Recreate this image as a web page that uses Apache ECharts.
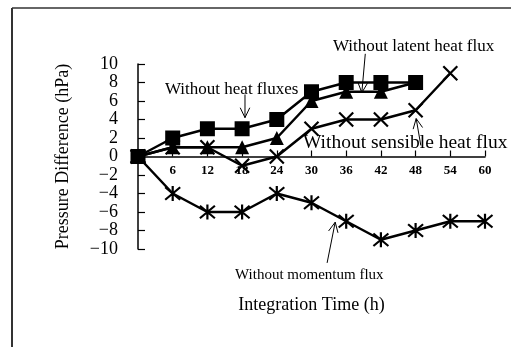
<!DOCTYPE html>
<html><head><meta charset="utf-8">
<script src="https://cdn.jsdelivr.net/npm/echarts@6/dist/echarts.min.js"></script>
<style>html,body{margin:0;padding:0;background:#fff}#c{width:511px;height:347px}</style>
</head><body><div id="c"></div>
<script>
var hours = [0, 6, 12, 18, 24, 30, 36, 42, 48, 54, 60];
var xTickLabels = ['', '6', '12', '18', '24', '30', '36', '42', '48', '54', '60'];
var yTickLabels = ['\u221210', '\u22128', '\u22126', '\u22124', '\u22122', '0', '2', '4', '6', '8', '10'];
var noHeatFluxes = [0, 2, 3, 3, 4, 7, 8, 8, 8];
var noLatent = [0, 1, 1, 1, 2, 6, 7, 7, 8];
var noSensible = [0, 1, 1, -1, 0, 3, 4, 4, 5, 9];
var noMomentum = [0, -4, -6, -6, -4, -5, -7, -9, -8, -7, -7];

function pairs(vals) { return vals.map(function (v, i) { return [hours[i], v]; }); }

var FONT = '"Liberation Serif", "DejaVu Serif", serif';
var XSYM = 'path://M0,0L10,10M10,0L0,10';
var ASTER = 'path://M0,0L10,10M10,0L0,10M5,-1L5,11';

var chart = echarts.init(document.getElementById('c'));
chart.setOption({
  backgroundColor: '#fff',
  animation: false,
  grid: { left: 138, right: 26, top: 64, bottom: 98, containLabel: false, outerBoundsMode: 'none' },
  xAxis: {
    type: 'value', min: 0, max: 60, interval: 6, offset: -92.5,
    axisLine: { onZero: false, lineStyle: { color: '#000', width: 1.5 } },
    axisTick: { inside: true, length: 6, lineStyle: { color: '#000', width: 1.2 } },
    axisLabel: {
      margin: 8, color: '#000', fontFamily: FONT, fontWeight: 'bold', fontSize: 13,
      formatter: function (v) { return xTickLabels[hours.indexOf(v)]; }
    },
    splitLine: { show: false },
    name: 'Integration Time (h)', nameLocation: 'middle', nameGap: 140,
    nameTextStyle: { color: '#000', fontFamily: FONT, fontSize: 18 }
  },
  yAxis: {
    type: 'value', min: -10, max: 10, interval: 2,
    axisLine: { show: true, onZero: false, lineStyle: { color: '#000', width: 1.5 } },
    axisTick: { show: true, inside: true, length: 7, lineStyle: { color: '#000', width: 1.2 } },
    axisLabel: {
      margin: 20, color: '#000', fontFamily: FONT, fontSize: 18, lineHeight: 14,
      formatter: function (v) { return yTickLabels[(v + 10) / 2]; }
    },
    splitLine: { show: false },
    name: 'Pressure Difference (hPa)', nameLocation: 'middle', nameGap: 66,
    nameTextStyle: { color: '#000', fontFamily: FONT, fontSize: 18 }
  },
  series: [
    {
      type: 'line', data: pairs(noMomentum), symbol: ASTER, symbolSize: 15,
      lineStyle: { color: '#000', width: 2.5 },
      itemStyle: { color: '#000', borderColor: '#000', borderWidth: 2.2 }
    },
    {
      type: 'line', data: pairs(noSensible), symbol: XSYM, symbolSize: 14,
      lineStyle: { color: '#000', width: 2.5 },
      itemStyle: { color: '#000', borderColor: '#000', borderWidth: 2.2 }
    },
    {
      type: 'line', data: pairs(noLatent), symbol: 'triangle', symbolSize: 14,
      lineStyle: { color: '#000', width: 2.5 },
      itemStyle: { color: '#000' }
    },
    {
      type: 'line', data: pairs(noHeatFluxes), symbol: 'rect', symbolSize: 15,
      lineStyle: { color: '#000', width: 2.5 },
      itemStyle: { color: '#000' }
    }
  ]
});

// annotation arrows in data coordinates: [tailX, tailY, tipX, tipY]
var arrows = [
  [39.3, 11.1, 38.7, 6.9],
  [18.5, 6.7, 18.5, 4.2],
  [48.9, 1.2, 48.1, 4.1],
  [32.7, -11.5, 34.1, -7.1]
];
var g = [
  { type: 'line', shape: { x1: 12, y1: 8, x2: 12, y2: 347 }, style: { stroke: '#333', lineWidth: 2 } },
  { type: 'line', shape: { x1: 12, y1: 8, x2: 511, y2: 8 }, style: { stroke: '#333', lineWidth: 1.5 } },
  { type: 'text', left: 333, top: 38, style: { text: 'Without latent heat flux', font: '17px ' + FONT, fill: '#000' } },
  { type: 'text', left: 165, top: 81, style: { text: 'Without heat fluxes', font: '17px ' + FONT, fill: '#000' } },
  { type: 'text', left: 303, top: 133, style: { text: 'Without sensible heat flux', font: '19.5px ' + FONT, fill: '#000' } },
  { type: 'text', left: 235, top: 268, style: { text: 'Without momentum flux', font: '15px ' + FONT, fill: '#000' } }
];
arrows.forEach(function (a) {
  var t = chart.convertToPixel({ gridIndex: 0 }, [a[0], a[1]]);
  var h = chart.convertToPixel({ gridIndex: 0 }, [a[2], a[3]]);
  var ang = Math.atan2(t[1] - h[1], t[0] - h[0]);
  var L = 11, s = 0.45;
  var p1 = [h[0] + L * Math.cos(ang + s), h[1] + L * Math.sin(ang + s)];
  var p2 = [h[0] + L * Math.cos(ang - s), h[1] + L * Math.sin(ang - s)];
  g.push({ type: 'polyline', shape: { points: [t, h] }, style: { stroke: '#000', lineWidth: 1, fill: null } });
  g.push({ type: 'polyline', shape: { points: [p1, h, p2] }, style: { stroke: '#000', lineWidth: 1, fill: null } });
});
chart.setOption({ graphic: g });
</script></body></html>
